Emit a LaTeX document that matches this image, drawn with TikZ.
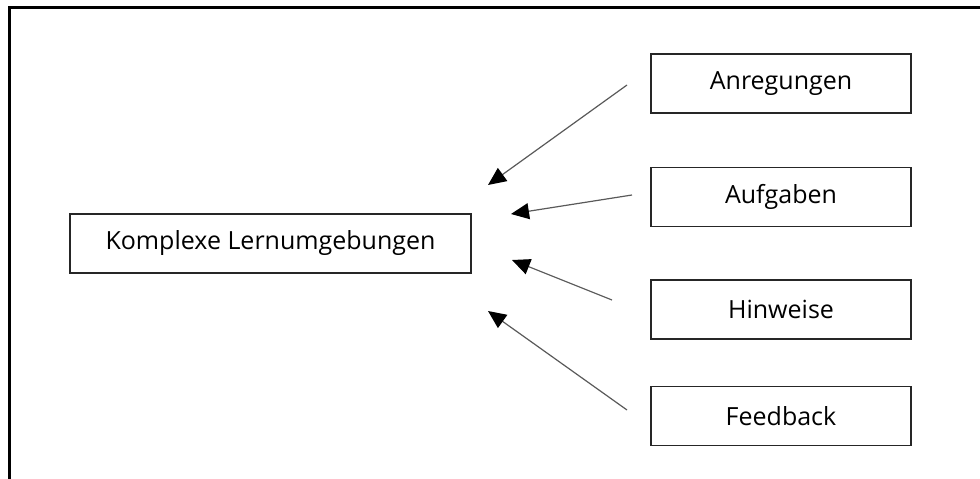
\documentclass[tikz,border=0pt]{standalone}
\usepackage{fontspec}
\setmainfont{Open Sans}
\usetikzlibrary{arrows.meta}

\begin{document}
\begin{tikzpicture}[x=1pt,y=-1pt]
   \useasboundingbox (0,0) rectangle (980,479);
   \tikzstyle{box}=[draw=black!85, line width=1.3pt, minimum width=260pt, minimum height=59pt, inner sep=0pt, font=\fontsize{25}{30}\selectfont]
   \tikzstyle{hint}=[draw=black!65, line width=1.2pt, -{Triangle[length=18pt,width=16pt,color=black]}]
   % frame: only left and top edges are on the page
   \draw[line width=3pt] (9.5,479) -- (9.5,7.5) -- (980,7.5);
   \node[box, minimum width=401pt] (lern) at (270.5,243.5) {Komplexe Lernumgebungen};
   \foreach \i/\y/\word in {1/83.5/{Anregungen},2/197/{Aufgaben},3/309.5/{Hinweise},4/416/{Feedback}} {
       \node[box] (b\i) at (781,\y) {\word};
   }
   % free ends of the arrows
   \foreach \i/\sx/\sy/\tx/\ty in {1/627/85/488/185,2/632/195/511/214,3/612/300/512/260,4/627/410/488/311} {
       \coordinate (s\i) at (\sx,\sy);
       \coordinate (t\i) at (\tx,\ty);
       \draw[hint] (s\i) -- (t\i);
   }
\end{tikzpicture}
\end{document}
